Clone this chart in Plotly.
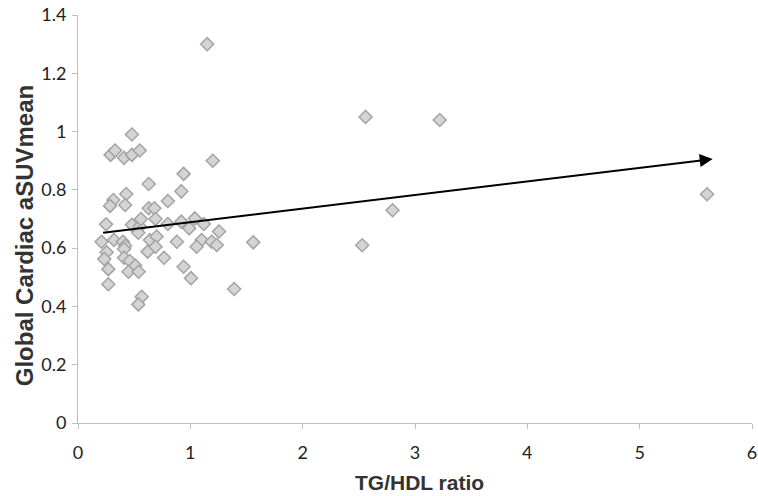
import plotly.graph_objects as go

tg_hdl = [1.15, 2.56, 3.22, 5.60, 2.80, 2.53, 1.56, 1.39,
          0.48, 0.29, 0.33, 0.41, 0.48, 0.55, 1.20, 0.94, 0.63, 0.92, 0.43, 0.80,
          0.315, 0.285, 0.42, 0.63, 0.68, 0.25, 0.48, 0.55, 0.537, 0.56, 0.69, 0.80,
          0.92, 0.99, 1.04, 1.12, 1.255, 0.21, 0.32, 0.40, 0.42, 0.64, 0.70, 0.62,
          0.88, 1.10, 1.056, 1.19, 1.235, 0.255, 0.234, 0.27, 0.27, 0.41, 0.41, 0.46,
          0.51, 0.45, 0.54, 0.567, 0.537, 0.766, 0.94, 1.006, 0.69]
suv_mean = [1.30, 1.05, 1.04, 0.785, 0.73, 0.61, 0.62, 0.46,
            0.99, 0.92, 0.935, 0.91, 0.92, 0.935, 0.90, 0.855, 0.82, 0.795, 0.786, 0.762,
            0.765, 0.745, 0.748, 0.737, 0.737, 0.682, 0.68, 0.674, 0.653, 0.70, 0.70, 0.683,
            0.691, 0.668, 0.702, 0.683, 0.657, 0.622, 0.628, 0.622, 0.608, 0.628, 0.64, 0.588,
            0.622, 0.628, 0.605, 0.622, 0.611, 0.586, 0.563, 0.528, 0.476, 0.597, 0.567, 0.556,
            0.54, 0.519, 0.519, 0.433, 0.407, 0.567, 0.536, 0.497, 0.605]

trend_x = [0.21, 5.65]
trend_y = [0.652, 0.906]

x_ticks = [0, 1, 2, 3, 4, 5, 6]
y_ticks = [0, 0.2, 0.4, 0.6, 0.8, 1, 1.2, 1.4]
y_tick_text = ["0", "0.2", "0.4", "0.6", "0.8", "1", "1.2", "1.4"]

x_title = "TG/HDL ratio"
y_title = "Global Cardiac aSUVmean"

fig = go.Figure()
fig.add_trace(go.Scatter(
    x=tg_hdl, y=suv_mean, mode="markers",
    marker=dict(symbol="diamond", size=10, color="#d4d4d4",
                line=dict(color="#a3a3a3", width=1.5)),
    showlegend=False, cliponaxis=False, hoverinfo="skip",
))
fig.add_annotation(
    x=trend_x[1], y=trend_y[1], ax=trend_x[0], ay=trend_y[0],
    xref="x", yref="y", axref="x", ayref="y",
    showarrow=True, arrowhead=2, arrowsize=1.3, arrowwidth=2,
    arrowcolor="black", text="",
)
fig.add_annotation(
    text="<b>" + y_title + "</b>", xref="paper", yref="paper",
    x=-0.080, y=0.458, xanchor="center", yanchor="middle",
    textangle=-90, showarrow=False,
    font=dict(family="Liberation Sans, Arial", size=24, color="#333"),
)
fig.add_annotation(
    text="<b>" + x_title + "</b>", xref="paper", yref="paper",
    x=0.506, y=-0.147, xanchor="center", yanchor="middle",
    showarrow=False,
    font=dict(family="Liberation Sans, Arial", size=21, color="#333"),
)

fig.update_layout(
    width=758, height=496,
    margin=dict(l=78, r=6, t=15, b=73, autoexpand=False),
    plot_bgcolor="white", paper_bgcolor="white",
    font=dict(family="Lato, Open Sans, sans-serif", size=18, color="#222"),
    xaxis=dict(
        range=[0, 6], tickvals=x_ticks, showgrid=False, zeroline=False,
        showline=True, linecolor="#bfbfbf", linewidth=1,
        ticks="outside", ticklen=5, tickcolor="#bfbfbf", automargin=False,
        ticklabelstandoff=8, ticklabeloverflow="allow",
    ),
    yaxis=dict(
        range=[0, 1.4001], tickvals=y_ticks, ticktext=y_tick_text,
        showgrid=False, zeroline=False,
        showline=True, linecolor="#bfbfbf", linewidth=1,
        ticks="outside", ticklen=5, tickcolor="#bfbfbf", automargin=False,
        ticklabelstandoff=2, ticklabeloverflow="allow",
    ),
)

fig.write_html("out.html", config={"displayModeBar": False},
               post_script="document.body.style.margin='0px';document.body.style.overflow='hidden';")
